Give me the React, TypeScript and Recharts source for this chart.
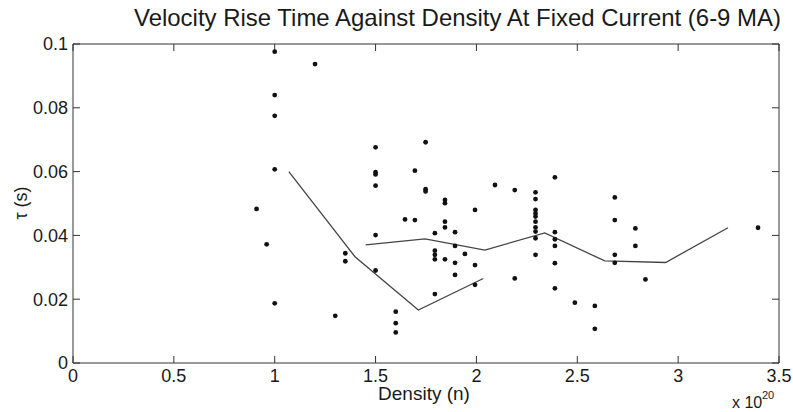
import React from 'react';
import { ScatterChart, Scatter, XAxis, YAxis, Customized } from 'recharts';

const xTicks = [0, 0.5, 1, 1.5, 2, 2.5, 3, 3.5];
const yTicks = [0, 0.02, 0.04, 0.06, 0.08, 0.1];

const pointX = [
  0.91, 0.96, 1.0, 1.0, 1.0, 1.0, 1.0, 1.2, 1.3, 1.35, 1.35,
  1.5, 1.5, 1.5, 1.5, 1.5, 1.5, 1.6, 1.6, 1.6, 1.646, 1.695, 1.695,
  1.748, 1.748, 1.748, 1.794, 1.794, 1.794, 1.794, 1.794,
  1.844, 1.844, 1.844, 1.844, 1.844, 1.894, 1.894, 1.894, 1.894, 1.943,
  1.993, 1.993, 1.993, 2.092, 2.19, 2.19,
  2.293, 2.293, 2.293, 2.293, 2.293, 2.293, 2.293, 2.293, 2.293, 2.293,
  2.389, 2.389, 2.389, 2.389, 2.389, 2.389,
  2.488, 2.587, 2.587, 2.686, 2.686, 2.686, 2.686, 2.788, 2.788, 2.838, 3.396,
];
const pointY = [
  0.0483, 0.0372, 0.0976, 0.084, 0.0775, 0.0607, 0.0187, 0.0937, 0.0148, 0.0344, 0.0319,
  0.0676, 0.0598, 0.0591, 0.0556, 0.0401, 0.029, 0.0161, 0.0125, 0.0096, 0.045, 0.0603, 0.0448,
  0.0692, 0.0545, 0.0538, 0.0407, 0.0352, 0.0339, 0.0325, 0.0216,
  0.0511, 0.0501, 0.0443, 0.0425, 0.0325, 0.041, 0.0367, 0.0314, 0.0276, 0.0342,
  0.048, 0.0307, 0.0245, 0.0558, 0.0542, 0.0265,
  0.0535, 0.0514, 0.048, 0.0469, 0.0459, 0.0443, 0.0425, 0.0412, 0.0391, 0.0339,
  0.0582, 0.041, 0.0388, 0.0367, 0.0313, 0.0234,
  0.0189, 0.0179, 0.0107, 0.0519, 0.0448, 0.0339, 0.0314, 0.0422, 0.0367, 0.0262, 0.0424,
];

const trendAX = [1.07, 1.398, 1.712, 2.034];
const trendAY = [0.06, 0.0333, 0.0166, 0.0265];
const trendBX = [1.451, 1.745, 2.042, 2.339, 2.636, 2.938, 3.247];
const trendBY = [0.037, 0.0389, 0.0354, 0.0408, 0.032, 0.0315, 0.0424];

const X_MAX = 3.5;
const Y_MAX = 0.1;

const points = pointX.map((x, i) => ({ x, y: pointY[i] }));
const trendA = trendAX.map((x, i) => ({ x, y: trendAY[i] }));
const trendB = trendBX.map((x, i) => ({ x, y: trendBY[i] }));

// chart layout
const W = 793;
const H = 412;
const MARGIN = { top: 44, right: 14, bottom: 19, left: 0 };
const Y_AXIS_W = 73;
const X_AXIS_H = 30;
const PLOT = {
  left: MARGIN.left + Y_AXIS_W,
  right: W - MARGIN.right,
  top: MARGIN.top,
  bottom: H - MARGIN.bottom - X_AXIS_H,
};
const TICK = 7;

const FONT = 'Liberation Sans, Arial, sans-serif';
const AXIS = '#333';
const TEXT = '#1a1a1a';

const Dot = (props: any) => <circle cx={props.cx} cy={props.cy} r={2.4} fill="#111" />;
const Empty = () => <g />;

// Box top/right edges with inward ticks, plus title and axis labels
const Decor = () => {
  const sx = (v: number) => PLOT.left + (v / X_MAX) * (PLOT.right - PLOT.left);
  const sy = (v: number) => PLOT.bottom - (v / Y_MAX) * (PLOT.bottom - PLOT.top);
  return (
    <g>
      <path
        d={`M${PLOT.left},${PLOT.top}H${PLOT.right}V${PLOT.bottom}`}
        stroke={AXIS}
        strokeWidth={1}
        fill="none"
      />
      {xTicks.map((t) => (
        <path key={'tx' + t} d={`M${sx(t)},${PLOT.top}V${PLOT.top + TICK}`} stroke={AXIS} strokeWidth={1} fill="none" />
      ))}
      {yTicks.map((t) => (
        <path key={'ty' + t} d={`M${PLOT.right},${sy(t)}H${PLOT.right - TICK}`} stroke={AXIS} strokeWidth={1} fill="none" />
      ))}
      <g fontFamily={FONT} fill={TEXT}>
        <text x={457.5} y={26} fontSize={24} textAnchor="middle" textLength={647} lengthAdjust="spacingAndGlyphs">
          Velocity Rise Time Against Density At Fixed Current (6-9 MA)
        </text>
        <text x={424} y={400} fontSize={19} textAnchor="middle">Density (n)</text>
        <text x={0} y={0} fontSize={18} textAnchor="middle" transform="translate(27,203) rotate(-90)">τ (s)</text>
        <text x={732} y={408} fontSize={16}>x 10</text>
        <text x={762} y={399} fontSize={11}>20</text>
      </g>
    </g>
  );
};

export default function App() {
  return (
    <div style={{ position: 'absolute', left: 0, top: 0, width: W, height: H, background: '#fff' }}>
      <ScatterChart width={W} height={H} margin={MARGIN}>
        <XAxis
          xAxisId="b"
          type="number"
          dataKey="x"
          domain={[0, X_MAX]}
          ticks={xTicks}
          orientation="bottom"
          height={X_AXIS_H}
          tickSize={-TICK}
          tickMargin={13}
          interval={0}
          stroke={AXIS}
          tick={{ fill: TEXT, fontSize: 18, fontFamily: FONT }}
        />
        <YAxis
          yAxisId="l"
          type="number"
          dataKey="y"
          domain={[0, Y_MAX]}
          ticks={yTicks}
          orientation="left"
          width={Y_AXIS_W}
          tickSize={-TICK}
          tickMargin={12}
          interval={0}
          stroke={AXIS}
          tick={{ fill: TEXT, fontSize: 18, fontFamily: FONT }}
        />
        <Scatter
          xAxisId="b"
          yAxisId="l"
          data={trendA}
          line={{ stroke: '#444', strokeWidth: 1.3 }}
          lineType="joint"
          shape={Empty}
          isAnimationActive={false}
        />
        <Scatter
          xAxisId="b"
          yAxisId="l"
          data={trendB}
          line={{ stroke: '#444', strokeWidth: 1.3 }}
          lineType="joint"
          shape={Empty}
          isAnimationActive={false}
        />
        <Scatter xAxisId="b" yAxisId="l" data={points} shape={Dot} isAnimationActive={false} />
        <Customized component={Decor} />
      </ScatterChart>
    </div>
  );
}
